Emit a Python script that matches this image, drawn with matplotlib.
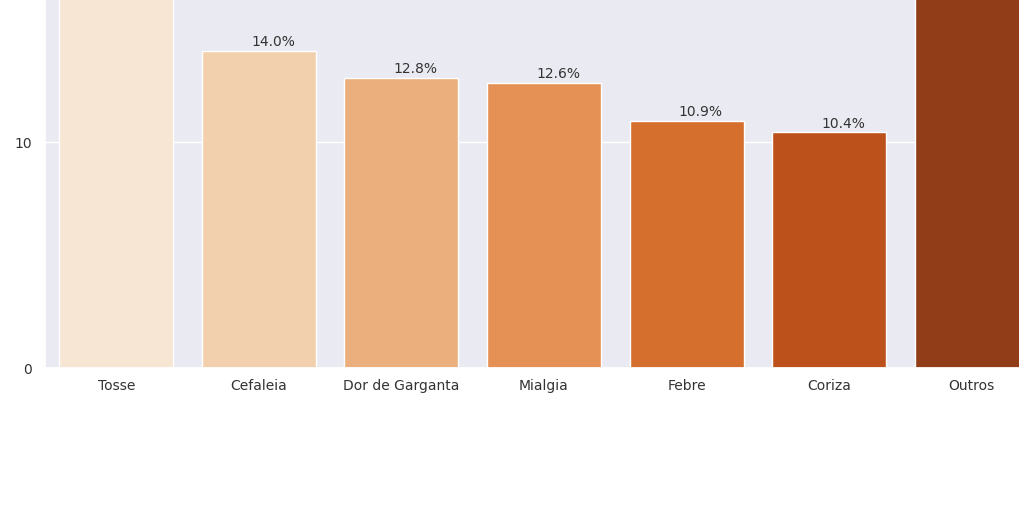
import matplotlib
matplotlib.use("Agg")
import matplotlib.pyplot as plt
import seaborn as sns

sintomas = ["Tosse", "Cefaleia", "Dor de Garganta", "Mialgia", "Febre", "Coriza", "Outros"]
percentuais = [18.4, 14.0, 12.8, 12.6, 10.9, 10.4, 20.9]

sns.set_theme(style="darkgrid")
plt.rcParams["font.family"] = ["DejaVu Sans"]

fig = plt.figure(figsize=(10.2, 5.1), dpi=100)
# the original picture is a crop of a taller/wider chart: axes run past top and right
ax = fig.add_axes([45 / 1020, 141.5 / 510, 998 / 1020, 22 * 22.6 / 510])

cores = sns.color_palette("Oranges", len(sintomas))
sns.barplot(x=sintomas, y=percentuais, hue=sintomas, palette=cores, legend=False, ax=ax,
            edgecolor="white", linewidth=1)

ax.set_xlim(-0.5, len(sintomas) - 0.5)
ax.set_ylim(0, 22)
ax.set_yticks([0, 10])
ax.tick_params(axis="both", labelsize=10, colors="#333333")
ax.tick_params(axis="x", pad=1.5)

# labels of the two tallest bars fall outside the visible crop, so skip them
for p, v in zip(ax.patches, percentuais):
    if v > 16:
        continue
    ax.annotate(f"{v:.1f}%", (p.get_x() + p.get_width() / 2 + 0.1, p.get_height()),
                xytext=(0, 2), textcoords="offset points",
                ha="center", va="bottom", fontsize=10, color="#333333")

fig.savefig("out.png", dpi=100)
